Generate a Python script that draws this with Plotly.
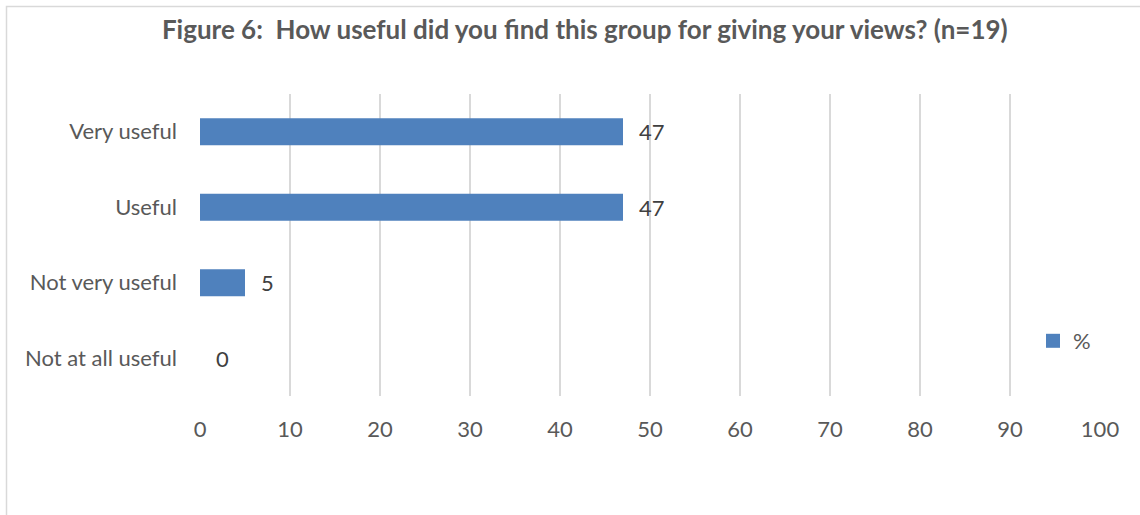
import plotly.graph_objects as go

# Survey responses (percent of 19 respondents)
categories = ["Very useful", "Useful", "Not very useful", "Not at all useful"]
percent = [47, 47, 5, 0]
x_ticks = list(range(0, 101, 10))

BAR_COLOR = "#4F81BD"
GRID = "#D9D9D9"
TEXT = "#595959"
FONT = "Lato"

W, H = 1140, 515
L, R, T, B = 200, 40, 94, 119
pw, ph = W - L - R, H - T - B

fig = go.Figure()
fig.add_trace(go.Bar(
    x=percent, y=categories, orientation="h",
    marker=dict(color=BAR_COLOR, line=dict(width=0)),
    width=0.36, name="%", showlegend=False,
))
# legend key with a larger square swatch for the series
fig.add_trace(go.Scatter(
    x=[None], y=[None], mode="markers", name="%",
    marker=dict(symbol="square", size=14, color=BAR_COLOR),
))

# value labels placed just right of each bar end
for c, v in zip(categories, percent):
    fig.add_annotation(
        x=v, y=c, xref="x", yref="y", text=str(v), showarrow=False,
        xanchor="left", yanchor="middle", xshift=14,
        font=dict(family=FONT, size=22, color="#404040"),
    )

# outer chart frame
fig.add_shape(
    type="rect", xref="paper", yref="paper",
    x0=(6.5 - L) / pw, x1=(W + 20 - L) / pw,
    y0=-(H + 20 - T - ph) / ph, y1=1 + (T - 6.5) / ph,
    line=dict(color="#D9D9D9", width=1.5), fillcolor="rgba(0,0,0,0)", layer="below",
)

fig.update_layout(
    width=W, height=H,
    margin=dict(l=L, r=R, t=T, b=B),
    paper_bgcolor="white", plot_bgcolor="white",
    font=dict(family=FONT, color=TEXT),
    title=dict(
        text="<b>Figure 6:  How useful did you find this group for giving your views? (n=19)</b>",
        x=0.513, xanchor="center", y=1 - 30 / H, yanchor="middle",
        font=dict(family=FONT, size=26, color=TEXT),
    ),
    showlegend=True,
    legend=dict(
        x=(1033 - L) / pw, y=(T + ph - 341) / ph, xanchor="left", yanchor="middle",
        font=dict(family=FONT, size=22, color=TEXT), bgcolor="rgba(0,0,0,0)",
        itemwidth=30,
    ),
    xaxis=dict(
        range=[0, 100], tickvals=x_ticks, showgrid=True, gridcolor=GRID, gridwidth=2,
        zeroline=False, showline=False, ticks="",
        tickfont=dict(family=FONT, size=22, color=TEXT), ticklabelstandoff=18,
        fixedrange=True,
    ),
    yaxis=dict(
        autorange="reversed", showgrid=False, zeroline=False, showline=False,
        ticks="", tickfont=dict(family=FONT, size=22, color=TEXT),
        ticklabelstandoff=22,
    ),
)

fig.write_html("out.html")
